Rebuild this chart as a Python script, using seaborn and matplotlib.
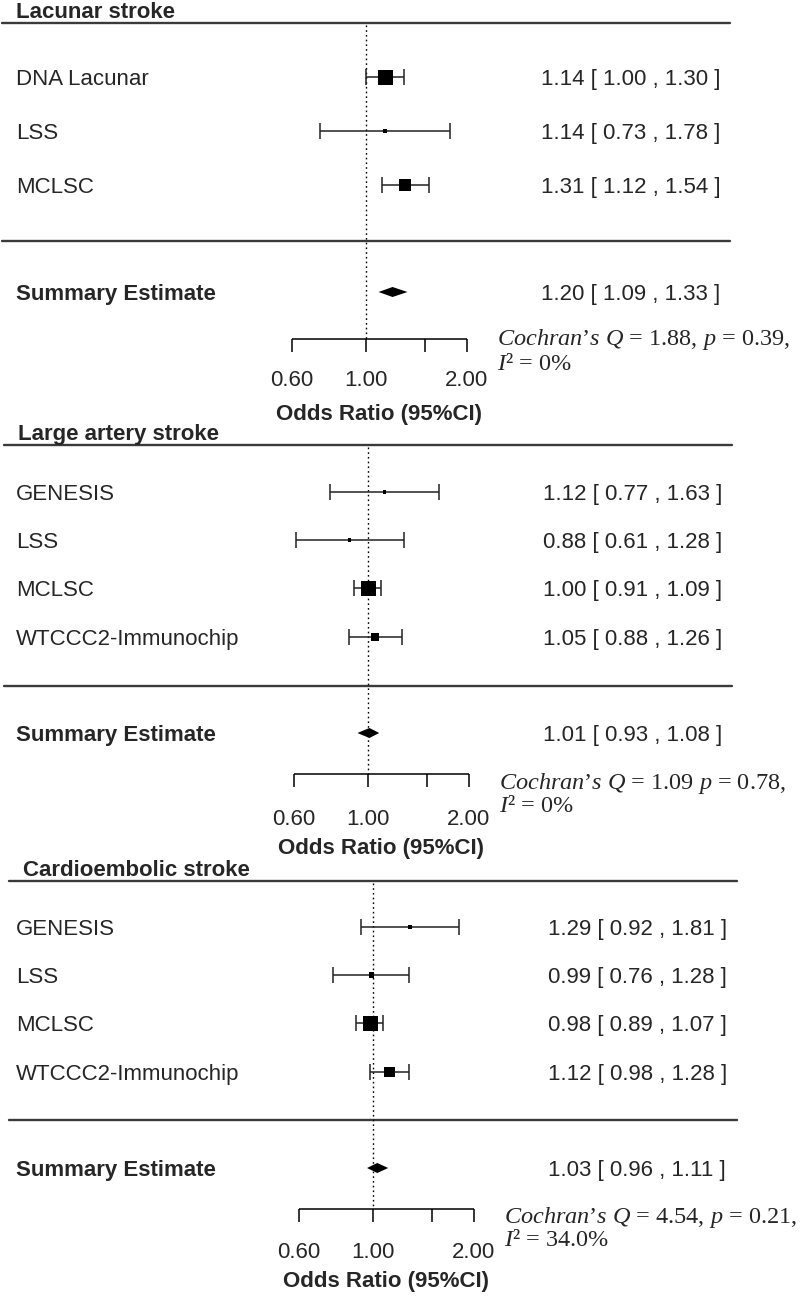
import numpy as np
import pandas as pd
import seaborn as sns
import matplotlib.pyplot as plt

# values
panel_titles = ["Lacunar stroke", "Large artery stroke", "Cardioembolic stroke"]

lacunar_studies = ["DNA Lacunar", "LSS", "MCLSC"]
lacunar_or = [1.14, 1.14, 1.31]
lacunar_lo = [1.00, 0.73, 1.12]
lacunar_hi = [1.30, 1.78, 1.54]

large_studies = ["GENESIS", "LSS", "MCLSC", "WTCCC2-Immunochip"]
large_or = [1.12, 0.88, 1.00, 1.05]
large_lo = [0.77, 0.61, 0.91, 0.88]
large_hi = [1.63, 1.28, 1.09, 1.26]

cardio_studies = ["GENESIS", "LSS", "MCLSC", "WTCCC2-Immunochip"]
cardio_or = [1.29, 0.99, 0.98, 1.12]
cardio_lo = [0.92, 0.76, 0.89, 0.98]
cardio_hi = [1.81, 1.28, 1.07, 1.28]

summary_or = [1.20, 1.01, 1.03]
summary_lo = [1.09, 0.93, 0.96]
summary_hi = [1.33, 1.08, 1.11]

cochran_q = ["1.88,", "1.09", "4.54,"]
cochran_p = ["0.39,", "0.78,", "0.21,"]
i_squared = ["0%", "0%", "34.0%"]

axis_ticks = [0.6, 1.0, 1.5, 2.0]
axis_labels = ["0.60", "1.00", "", "2.00"]

W, H = 800, 1297
PX_PER_LOG = 145.5

sns.set_style("white")
plt.rcParams["font.family"] = ["Liberation Sans", "DejaVu Sans"]
plt.rcParams["mathtext.fontset"] = "custom"
plt.rcParams["mathtext.rm"] = "Liberation Serif"
plt.rcParams["mathtext.it"] = "Liberation Serif:italic"

# layout of each panel in pixels (top of figure = 0)
layouts = [
    dict(cx=366, line=23, rows=[77, 131, 185], sep=241, summ=292,
         axis=339, ticklab=378, xlab=412, q=339, i2=364),
    dict(cx=368, line=445, rows=[492, 540, 588, 637], sep=686, summ=733,
         axis=774, ticklab=817, xlab=846, q=783, i2=806),
    dict(cx=373, line=881, rows=[927, 975, 1023, 1072], sep=1120, summ=1168,
         axis=1209, ticklab=1250, xlab=1279, q=1218, i2=1241),
]

panels = [
    pd.DataFrame({"study": lacunar_studies, "or": lacunar_or, "lo": lacunar_lo, "hi": lacunar_hi}),
    pd.DataFrame({"study": large_studies, "or": large_or, "lo": large_lo, "hi": large_hi}),
    pd.DataFrame({"study": cardio_studies, "or": cardio_or, "lo": cardio_lo, "hi": cardio_hi}),
]

fig = plt.figure(figsize=(W / 100, H / 100), dpi=100)
LINE_COL = "#3a3a3a"
FS = 16

for k, (df, lay) in enumerate(zip(panels, layouts)):
    ax = fig.add_axes([0, 0, 1, 1])
    ax.set_xscale("log")
    cx = lay["cx"]
    ax.set_xlim(np.exp(-cx / PX_PER_LOG), np.exp((W - cx) / PX_PER_LOG))
    ax.set_ylim(H, 0)
    ax.axis("off")
    tr = ax.get_yaxis_transform()

    def fx(px):
        return px / W

    ax.text(fx(cx - 350), lay["line"] - 5, panel_titles[k], transform=tr,
            fontsize=FS, fontweight="bold", va="baseline", ha="left")
    for yy in (lay["line"], lay["sep"]):
        ax.axhline(yy, xmin=fx(cx - 364), xmax=fx(cx + 364), color=LINE_COL, lw=1.7)

    ax.vlines(1.0, lay["line"] + 2, lay["axis"], colors="black",
              linestyles=(0, (1.2, 2.2)), lw=1.0)

    df = df.copy()
    df["y"] = lay["rows"]
    se = (np.log(df["hi"]) - np.log(df["lo"])) / 3.92
    rel = (1 / se) / (1 / se).max()
    side_pt = 15 * rel * 0.72

    ax.errorbar(df["or"], df["y"], xerr=[df["or"] - df["lo"], df["hi"] - df["or"]],
                fmt="none", ecolor="#222222", elinewidth=1.1, capsize=5.5, capthick=1.1)
    sns.scatterplot(data=df, x="or", y="y", marker="s", color="black",
                    s=side_pt ** 2, linewidth=0, ax=ax, legend=False, zorder=3)

    for _, r in df.iterrows():
        ax.text(fx(16), r["y"], r["study"], transform=tr, fontsize=FS, va="center_baseline")
        ax.text(fx(cx + 175), r["y"],
                f"{r['or']:.2f} [ {r['lo']:.2f} , {r['hi']:.2f} ]",
                transform=tr, fontsize=FS, va="center_baseline")

    # summary diamond
    ys = lay["summ"]
    h = 5
    ax.fill([summary_lo[k], summary_or[k], summary_hi[k], summary_or[k]],
            [ys, ys - h, ys, ys + h], color="black", lw=0, zorder=3)
    ax.text(fx(16), ys, "Summary Estimate", transform=tr, fontsize=FS,
            fontweight="bold", va="center_baseline")
    ax.text(fx(cx + 175), ys,
            f"{summary_or[k]:.2f} [ {summary_lo[k]:.2f} , {summary_hi[k]:.2f} ]",
            transform=tr, fontsize=FS, va="center_baseline")

    # odds ratio axis
    ya = lay["axis"]
    ax.hlines(ya, axis_ticks[0], axis_ticks[-1], colors="black", lw=1.1)
    ax.vlines(axis_ticks, ya, ya + 13, colors="black", lw=1.1)
    for t, lab in zip(axis_ticks, axis_labels):
        ax.text(t, lay["ticklab"], lab, ha="center", va="center_baseline", fontsize=FS)
    ax.text(np.sqrt(axis_ticks[0] * axis_ticks[-1]), lay["xlab"], "Odds Ratio (95%CI)",
            ha="center", va="center_baseline", fontsize=FS, fontweight="bold")

    ax.text(fx(cx + 131), lay["q"],
            r"$\mathit{Cochran’s\ Q}$ = " + cochran_q[k] + r" $\mathit{p}$ = " + cochran_p[k],
            transform=tr, fontsize=17.5, va="center", family="Liberation Serif")
    ax.text(fx(cx + 131), lay["i2"], r"$\mathit{I}$² = " + i_squared[k],
            transform=tr, fontsize=17.5, va="center", family="Liberation Serif")

fig.savefig("out.png", dpi=100)
